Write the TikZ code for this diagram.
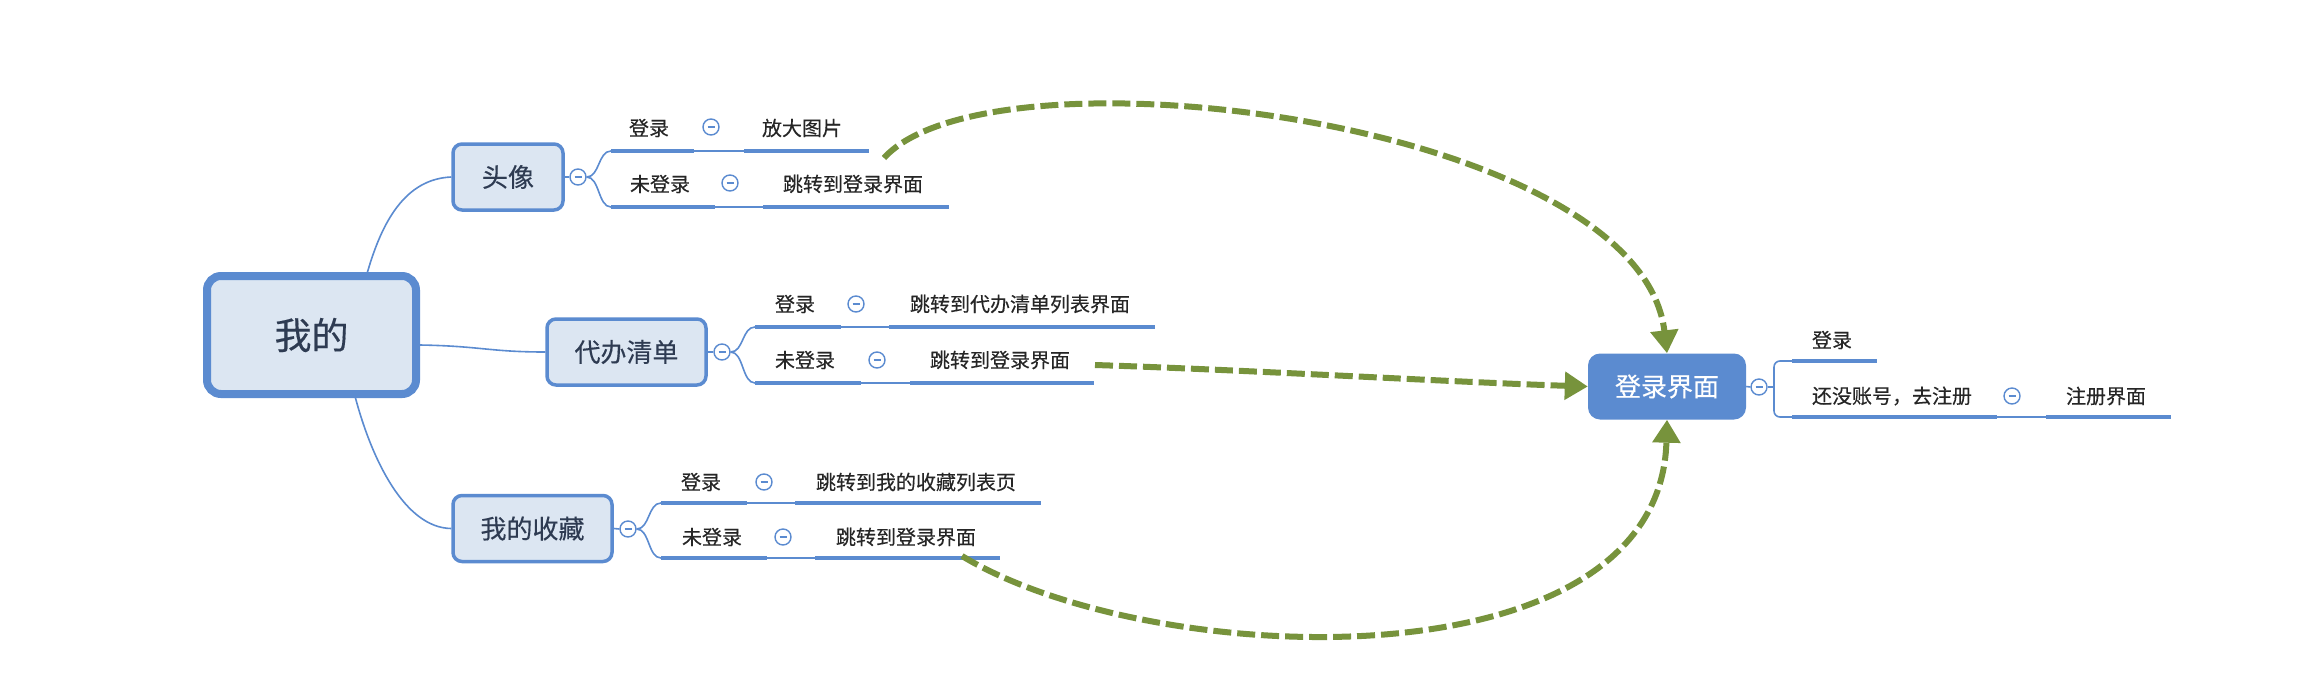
\documentclass[tikz,border=0pt]{standalone}
\usepackage{fontspec}
\newfontfamily\cjk[FakeBold=0.3]{Noto Sans CJK SC}
\usetikzlibrary{arrows.meta}
\definecolor{mblue}{HTML}{5B8BD0}
\definecolor{mfill}{HTML}{DCE6F2}
\definecolor{mtext}{HTML}{2E3B52}
\definecolor{mgreen}{HTML}{77933C}
\begin{document}
\begin{tikzpicture}[x=1pt,y=-1pt,
  rootbox/.style={draw=mblue, line width=8pt, fill=mfill, rounded corners=14pt, minimum width=209pt, minimum height=118pt, inner sep=0pt, font=\cjk\fontsize{37}{40}\selectfont, text=mtext},
  subbox/.style={draw=mblue, line width=3.5pt, fill=mfill, rounded corners=9pt, minimum height=66pt, inner sep=0pt, font=\cjk\fontsize{26}{30}\selectfont, text=mtext},
  loginbox/.style={fill=mblue, rounded corners=12pt, minimum width=158pt, minimum height=66pt, inner sep=0pt, font=\cjk\fontsize{26}{30}\selectfont, text=white},
  leaf/.style={font=\cjk\fontsize{20}{24}\selectfont, text=black!85, inner sep=0pt},
  thickbar/.style={mblue, line width=4.5pt},
  thinseg/.style={mblue, line width=1.6pt},
  conn/.style={mblue, line width=1.6pt},
  foldmark/.style={circle, draw=mblue, line width=1.4pt, fill=white, minimum size=16pt, inner sep=0pt,
    path picture={\draw[mblue,line width=1.2pt] ([xshift=-3.5pt]path picture bounding box.center) -- ([xshift=3.5pt]path picture bounding box.center);}},
  jumparrow/.style={mgreen, line width=6pt, dash pattern=on 18pt off 6pt, -{Triangle[length=23pt,width=27pt]}}
]
\fill[white] (0,0) rectangle (2322,694);
\useasboundingbox (0,0) rectangle (2322,694);

% main boxes
\node[rootbox] (root) at (311.5,335) {我的};
\node[subbox, minimum width=110pt] (tou) at (508,177) {头像};
\node[subbox, minimum width=159pt] (dai) at (626.5,352) {代办清单};
\node[subbox, minimum width=159pt] (shou) at (532.5,528.5) {我的收藏};
\node[loginbox] (login) at (1667,386.5) {登录界面};

% root connectors
\draw[conn] ([xshift=56pt]root.north) .. controls (382,222) and (405,179) .. (tou.west);
\draw[conn] ([yshift=-10pt]root.east) .. controls (480,346) and (490,352) .. (dai.west);
\draw[conn] ([xshift=44pt]root.south) .. controls (372,460) and (405,528) .. (shou.west);

% ---- 头像 subtree
\node[foldmark] (tf) at (578,177) {};
\draw[conn] (tou.east) -- (tf.west);
\coordinate (a1s) at (611,151); \coordinate (a1p) at (694,151); \coordinate (a1q) at (744,151); \coordinate (a1e) at (869,151);
\coordinate (a2s) at (611,207); \coordinate (a2p) at (715,207); \coordinate (a2q) at (763,207); \coordinate (a2e) at (949,207);
\draw[conn] (tf.east) .. controls +(13,0) and +(-13,0) .. (a1s);
\draw[conn] (tf.east) .. controls +(13,0) and +(-13,0) .. (a2s);
\draw[thickbar] (a1s) -- (a1p); \draw[thinseg] (a1p) -- (a1q); \draw[thickbar] (a1q) -- (a1e);
\draw[thickbar] (a2s) -- (a2p); \draw[thinseg] (a2p) -- (a2q); \draw[thickbar] (a2q) -- (a2e);
\node[leaf] (a1l) at (649,128) {登录};
\node[foldmark] (a1c) at (711,127) {};
\node[leaf] (a1r) at (802,128) {放大图片};
\node[leaf] (a2l) at (660,184) {未登录};
\node[foldmark] (a2c) at (730,183) {};
\node[leaf] (a2r) at (853,184) {跳转到登录界面};

% ---- 代办清单 subtree
\node[foldmark] (df) at (722,352) {};
\draw[conn] (dai.east) -- (df.west);
\coordinate (b1s) at (755,327); \coordinate (b1p) at (841,327); \coordinate (b1q) at (889,327); \coordinate (b1e) at (1155,327);
\coordinate (b2s) at (755,383); \coordinate (b2p) at (861,383); \coordinate (b2q) at (910,383); \coordinate (b2e) at (1094,383);
\draw[conn] (df.east) .. controls +(13,0) and +(-13,0) .. (b1s);
\draw[conn] (df.east) .. controls +(13,0) and +(-13,0) .. (b2s);
\draw[thickbar] (b1s) -- (b1p); \draw[thinseg] (b1p) -- (b1q); \draw[thickbar] (b1q) -- (b1e);
\draw[thickbar] (b2s) -- (b2p); \draw[thinseg] (b2p) -- (b2q); \draw[thickbar] (b2q) -- (b2e);
\node[leaf] (b1l) at (795,304) {登录};
\node[foldmark] (b1c) at (856,304) {};
\node[leaf] (b1r) at (1020,304) {跳转到代办清单列表界面};
\node[leaf] (b2l) at (805,360) {未登录};
\node[foldmark] (b2c) at (877,360) {};
\node[leaf] (b2r) at (1000,360) {跳转到登录界面};

% ---- 我的收藏 subtree
\node[foldmark] (sf) at (628,529) {};
\draw[conn] (shou.east) -- (sf.west);
\coordinate (c1s) at (661,503); \coordinate (c1p) at (747,503); \coordinate (c1q) at (795,503); \coordinate (c1e) at (1041,503);
\coordinate (c2s) at (661,558); \coordinate (c2p) at (767,558); \coordinate (c2q) at (815,558); \coordinate (c2e) at (1000,558);
\draw[conn] (sf.east) .. controls +(13,0) and +(-13,0) .. (c1s);
\draw[conn] (sf.east) .. controls +(13,0) and +(-13,0) .. (c2s);
\draw[thickbar] (c1s) -- (c1p); \draw[thinseg] (c1p) -- (c1q); \draw[thickbar] (c1q) -- (c1e);
\draw[thickbar] (c2s) -- (c2p); \draw[thinseg] (c2p) -- (c2q); \draw[thickbar] (c2q) -- (c2e);
\node[leaf] (c1l) at (701,482) {登录};
\node[foldmark] (c1c) at (764,482) {};
\node[leaf] (c1r) at (916,482) {跳转到我的收藏列表页};
\node[leaf] (c2l) at (712,537) {未登录};
\node[foldmark] (c2c) at (783,537) {};
\node[leaf] (c2r) at (906,537) {跳转到登录界面};

% ---- 登录界面 subtree
\node[foldmark] (lf) at (1759,387) {};
\draw[conn] (login.east) -- (lf.west);
\coordinate (dk) at (1774,387);
\coordinate (d1s) at (1792,361); \coordinate (d1e) at (1877,361);
\coordinate (d2s) at (1792,417); \coordinate (d2p) at (1997,417); \coordinate (d2q) at (2046,417); \coordinate (d2e) at (2171,417);
\draw[conn] (lf.east) -- (dk);
\draw[conn, rounded corners=6pt] (dk) |- (d1s);
\draw[conn, rounded corners=6pt] (dk) |- (d2s);
\draw[thickbar] (d1s) -- (d1e);
\draw[thickbar] (d2s) -- (d2p); \draw[thinseg] (d2p) -- (d2q); \draw[thickbar] (d2q) -- (d2e);
\node[leaf] (d1l) at (1832,340) {登录};
\node[leaf] (d2l) at (1892,396) {还没账号，去注册};
\node[foldmark] (d2c) at (2012,396) {};
\node[leaf] (d2r) at (2106,396) {注册界面};

% ---- green jump arrows
\coordinate (j1) at (884,158);
\coordinate (j2) at (1095,365);
\coordinate (j3) at (962,556);
\draw[jumparrow] (j1) .. controls (990,40) and (1640,120) .. (login.north);
\draw[jumparrow] (j2) .. controls (1250,370) and (1450,382) .. (login.west);
\draw[jumparrow] (j3) .. controls (1150,670) and (1660,690) .. (login.south);
\end{tikzpicture}
\end{document}
